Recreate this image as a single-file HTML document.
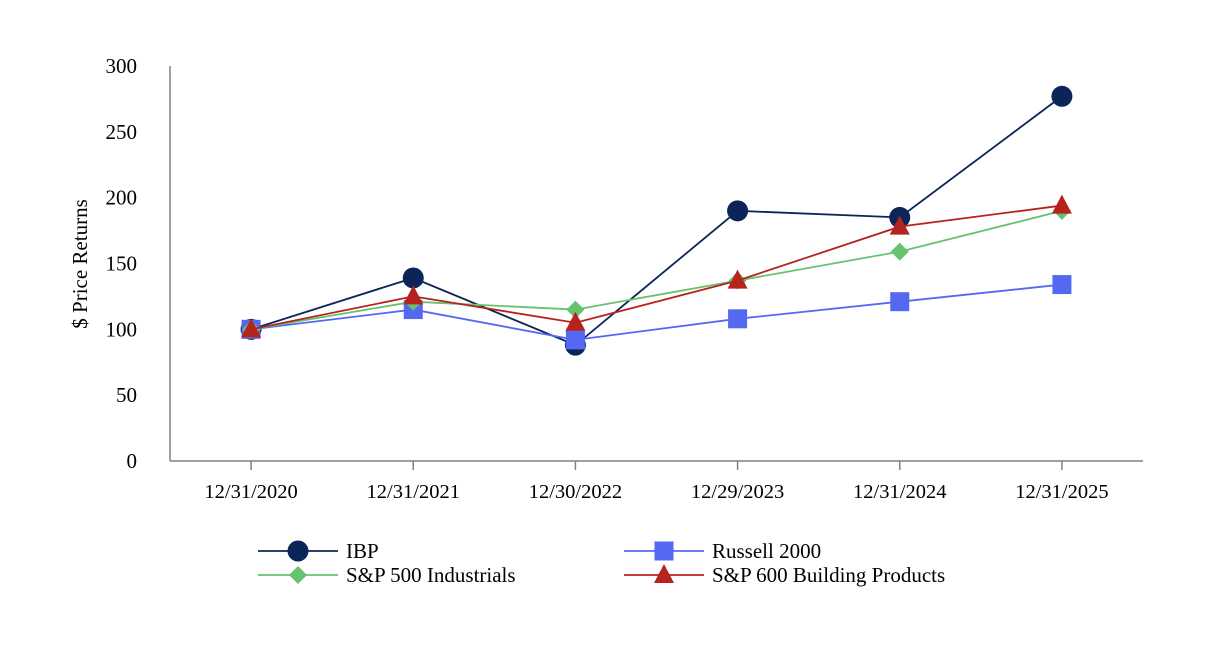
<!DOCTYPE html>
<html><head><meta charset="utf-8"><style>
html,body{margin:0;padding:0;background:#fff;}
svg text{font-family:"Liberation Serif",serif;fill:#000;}
</style></head><body>
<svg width="1208" height="658" viewBox="0 0 1208 658">
<g id="axes"></g><g id="series"></g><g id="legend"></g>
</svg>
<script>
const categories=["12/31/2020","12/31/2021","12/30/2022","12/29/2023","12/31/2024","12/31/2025"];
const yTicks=[0,50,100,150,200,250,300];
const ibp=[100,139,88,190,185,277];
const russell=[100,115,92,108,121,134];
const spInd=[100,121,115,137,159,190];
const spBld=[100,125,105,137,178,194];
const names=["IBP","Russell 2000","S&P 500 Industrials","S&P 600 Building Products"];

const NS="http://www.w3.org/2000/svg";
const x0=170,x1=1143,y0=461,y1=66,ymax=300;
const bw=(x1-x0)/categories.length;
const X=i=>x0+bw*(i+0.5);
const Y=v=>y0-(v/ymax)*(y0-y1);
function mk(tag,attrs,parent){const e=document.createElementNS(NS,tag);for(const k in attrs)e.setAttribute(k,attrs[k]);parent.appendChild(e);return e;}
const axes=document.getElementById('axes');
let e=mk('line',{x1:x0,y1:y1,x2:x0,y2:y0,stroke:'#808080','stroke-width':1.5},axes);


e=mk('line',{x1:x0,y1:y0,x2:x1,y2:y0,stroke:'#808080','stroke-width':1.5},axes);


yTicks.forEach(t=>{const tx=mk('text',{x:137,y:Y(t)+7,'text-anchor':'end','font-size':21},axes);tx.textContent=t;

});
categories.forEach((c,i)=>{const l=mk('line',{x1:X(i),y1:y0,x2:X(i),y2:y0+9,stroke:'#808080','stroke-width':1.5},axes);


const tx=mk('text',{x:X(i),y:498,'text-anchor':'middle','font-size':20.5},axes);tx.textContent=c;

});
e=mk('text',{x:0,y:0,'text-anchor':'middle','font-size':21,transform:'translate(87,264) rotate(-90)'},axes);
e.textContent='$ Price Returns';



function marker(type,cx,cy,color,parent){
  let m;
  if(type==='circle')m=mk('circle',{cx,cy,r:10.5,fill:color},parent);
  else if(type==='square')m=mk('rect',{x:cx-9.5,y:cy-9.5,width:19,height:19,fill:color},parent);
  else if(type==='diamond')m=mk('polygon',{points:`${cx},${cy-9} ${cx+9},${cy} ${cx},${cy+9} ${cx-9},${cy}`,fill:color},parent);
  else m=mk('polygon',{points:`${cx},${cy-11} ${cx+10},${cy+8} ${cx-10},${cy+8}`,fill:color},parent);
  return m;
}
const series=[
 {d:ibp,c:'#0b2559',m:'circle',n:'ibp'},
 {d:russell,c:'#5468f2',m:'square',n:'russell-2000'},
 {d:spInd,c:'#66c26e',m:'diamond',n:'sp500-industrials'},
 {d:spBld,c:'#b5231c',m:'triangle',n:'sp600-building-products'}];
const sg=document.getElementById('series');
const drawOrder=[0,1,2,3];
drawOrder.forEach(k=>{const s=series[k];
  const g=mk('g',{},sg);
  
  
  const p=mk('polyline',{points:s.d.map((v,i)=>X(i)+','+Y(v)).join(' '),fill:'none',stroke:s.c,'stroke-width':1.8},g);
  
  
  s.d.forEach((v,i)=>{const m=marker(s.m,X(i),Y(v),s.c,g);
    
    });
});
const lg=document.getElementById('legend');
const pos=[[258,551],[624,551],[258,575],[624,575]];
[0,1,2,3].forEach((k,j)=>{const s=series[k];const [lx,ly]=pos[j];
  const g=mk('g',{},lg);
  
  
  mk('line',{x1:lx,y1:ly,x2:lx+80,y2:ly,stroke:s.c,'stroke-width':1.8},g);
  marker(s.m,lx+40,ly,s.c,g);
  const t=mk('text',{x:lx+88,y:ly+7,'font-size':21},g);t.textContent=names[k];
});
</script>
</body></html>
